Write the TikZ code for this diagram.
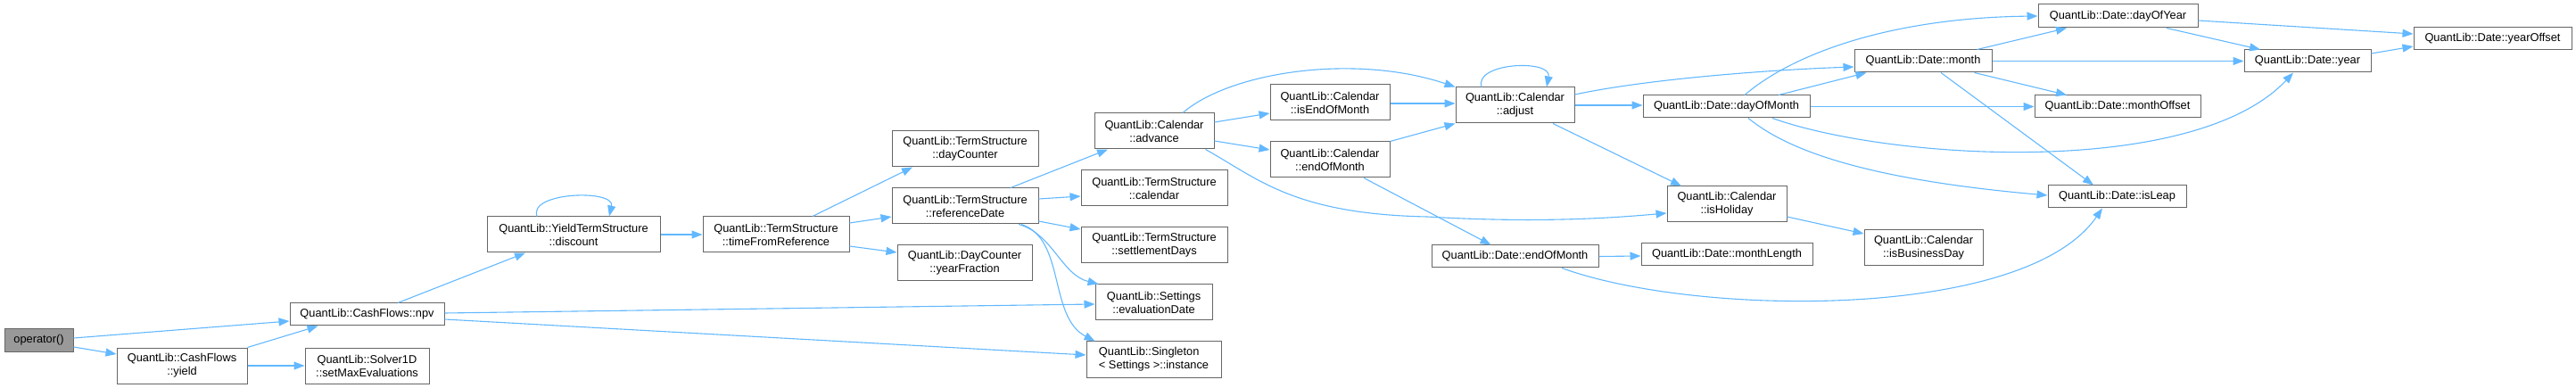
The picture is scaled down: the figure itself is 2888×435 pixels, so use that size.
\documentclass[tikz,border=0pt]{standalone}
\usepackage{fontspec}
\setmainfont{Liberation Sans}
\usetikzlibrary{arrows.meta,calc}
\definecolor{edgeblue}{HTML}{63B8FF}
\definecolor{boxgray}{HTML}{666666}
\definecolor{rootgray}{HTML}{999999}
\begin{document}
\begin{tikzpicture}[x=1pt,y=-1pt,
  nodebox/.style={draw=boxgray, line width=1pt, fill=white, inner sep=0pt, align=center, font=\fontsize{12.8}{15}\selectfont},
  twoline/.style={minimum height=40pt},
  oneline/.style={minimum height=25pt},
  rootbox/.style={nodebox, fill=rootgray},
  call/.style={draw=edgeblue, line width=1.1pt, -{Triangle[length=12pt,width=9pt]}}]
\useasboundingbox (0,0) rectangle (2888,435);

% nodes
\node[rootbox,oneline,minimum width=77pt] (op) at (43.5,381.5) {operator()};
\node[nodebox,oneline,minimum width=173pt] (npv) at (411.5,352.5) {QuantLib::CashFlows::npv};
\node[nodebox,twoline,minimum width=146pt] (yield) at (204,410) {QuantLib::CashFlows\\::yield};
\node[nodebox,twoline,minimum width=139pt] (setmax) at (411.5,410) {QuantLib::Solver1D\\::setMaxEvaluations};
\node[nodebox,twoline,minimum width=194pt] (discount) at (643,263) {QuantLib::YieldTermStructure\\::discount};
\node[nodebox,twoline,minimum width=164pt] (tfr) at (870,263) {QuantLib::TermStructure\\::timeFromReference};
\node[nodebox,twoline,minimum width=164pt] (daycounter) at (1082,167) {QuantLib::TermStructure\\::dayCounter};
\node[nodebox,twoline,minimum width=164pt] (refdate) at (1082,231) {QuantLib::TermStructure\\::referenceDate};
\node[nodebox,twoline,minimum width=151pt] (yearfrac) at (1081.5,295) {QuantLib::DayCounter\\::yearFraction};
\node[nodebox,twoline,minimum width=134pt] (advance) at (1294,147) {QuantLib::Calendar\\::advance};
\node[nodebox,twoline,minimum width=164pt] (calendar) at (1294,211) {QuantLib::TermStructure\\::calendar};
\node[nodebox,twoline,minimum width=164pt] (settle) at (1294,275) {QuantLib::TermStructure\\::settlementDays};
\node[nodebox,twoline,minimum width=131pt] (evaldate) at (1293.5,339) {QuantLib::Settings\\::evaluationDate};
\node[nodebox,twoline,minimum width=151pt,align=left] (instance) at (1293.5,403) {QuantLib::Singleton\\< Settings >::instance};
\node[nodebox,twoline,minimum width=134pt] (iseom) at (1491,115) {QuantLib::Calendar\\::isEndOfMonth};
\node[nodebox,twoline,minimum width=134pt] (caleom) at (1491,179) {QuantLib::Calendar\\::endOfMonth};
\node[nodebox,twoline,minimum width=133pt] (adjust) at (1698.5,118) {QuantLib::Calendar\\::adjust};
\node[nodebox,oneline,minimum width=187pt] (dom) at (1935.5,119.5) {QuantLib::Date::dayOfMonth};
\node[nodebox,twoline,minimum width=134pt] (isholiday) at (1936,229) {QuantLib::Calendar\\::isHoliday};
\node[nodebox,oneline,minimum width=187pt] (dateeom) at (1698.5,287.5) {QuantLib::Date::endOfMonth};
\node[nodebox,oneline,minimum width=192pt] (monthlength) at (1936,285.5) {QuantLib::Date::monthLength};
\node[nodebox,twoline,minimum width=133pt] (isbusday) at (2156.5,278) {QuantLib::Calendar\\::isBusinessDay};
\node[nodebox,oneline,minimum width=179pt,minimum height=26pt] (doy) at (2374.5,18) {QuantLib::Date::dayOfYear};
\node[nodebox,oneline,minimum width=154pt] (month) at (2156,68.5) {QuantLib::Date::month};
\node[nodebox,oneline,minimum width=142pt] (year) at (2587,68.5) {QuantLib::Date::year};
\node[nodebox,oneline,minimum width=177pt] (yearoffset) at (2794.5,43.5) {QuantLib::Date::yearOffset};
\node[nodebox,oneline,minimum width=186pt] (monthoffset) at (2374,119.5) {QuantLib::Date::monthOffset};
\node[nodebox,oneline,minimum width=155pt] (isleap) at (2373.5,220.5) {QuantLib::Date::isLeap};

% edges
\draw[call] ($(op.east)+(0,-2.5)$) -- ($(npv.west)+(0,7.5)$);
\draw[call] ($(op.east)+(0,7.5)$) -- ($(yield.west)+(0,-13)$);
\draw[call] (yield.north east) -- ($(npv.south west)+(32,0)$);
\draw[call] (yield.east) -- (setmax.west);
\draw[call] ($(npv.north)+(34.5,0)$) -- ($(discount.south)+(-54,0)$);
\draw[call] ($(npv.east)+(0,-1.5)$) -- ($(evaldate.west)+(0,2)$);
\draw[call] ($(npv.east)+(0,5.5)$) -- ($(instance.west)+(0,-5)$);
\draw[call] ($(discount.north)+(-41,0)$) .. controls (592,215) and (690,212) .. ($(discount.north)+(40,0)$);
\draw[call] (discount.east) -- (tfr.west);
\draw[call] ($(tfr.north)+(41,0)$) -- ($(daycounter.south)+(-59,0)$);
\draw[call] ($(tfr.east)+(0,-13)$) -- ($(refdate.west)+(0,12)$);
\draw[call] ($(tfr.east)+(0,13)$) -- ($(yearfrac.west)+(0,-12)$);
\draw[call] ($(refdate.north)+(51,0)$) -- ($(advance.south)+(-52,0)$);
\draw[call] ($(refdate.east)+(0,-8)$) -- ($(calendar.west)+(0,9)$);
\draw[call] ($(refdate.east)+(0,17)$) -- ($(settle.west)+(0,-18)$);
\draw[call] ($(refdate.south)+(60,0)$) .. controls (1180,262) and (1190,308) .. ($(evaldate.north west)+(4,0)$);
\draw[call] ($(refdate.south)+(63,0)$) .. controls (1195,268) and (1175,355) .. ($(instance.north west)+(10,0)$);
\draw[call] ($(advance.north)+(32,0)$) .. controls (1380,80) and (1520,60) .. (adjust.north west);
\draw[call] ($(advance.east)+(0,-10)$) -- ($(iseom.west)+(0,12)$);
\draw[call] ($(advance.east)+(0,11)$) -- ($(caleom.west)+(0,-11)$);
\draw[call] ($(advance.south east)+(-10,0)$) .. controls (1410,200) and (1450,240) .. (1600,243) .. controls (1720,250) and (1800,245) .. ($(isholiday.west)+(0,10)$);
\draw[call] ($(iseom.east)+(0,1)$) -- ($(adjust.west)+(0,-2)$);
\draw[call] (caleom.north east) -- (adjust.south west);
\draw[call] ($(caleom.south)+(38,0)$) -- ($(dateeom.north)+(-27,0)$);
\draw[call] ($(adjust.north)+(-37.5,0)$) .. controls (1652,70) and (1740,66) .. ($(adjust.north)+(35.5,0)$);
\draw[call] ($(adjust.east)+(0,-12)$) .. controls (1850,88) and (1990,78) .. ($(month.west)+(0,6.5)$);
\draw[call] (adjust.east) -- ($(dom.west)+(0,-1.5)$);
\draw[call] ($(adjust.south)+(42.5,0)$) -- ($(isholiday.north)+(-51,0)$);
\draw[call] ($(dom.north)+(20.5,0)$) .. controls (2010,60) and (2120,20) .. (doy.west);
\draw[call] ($(dom.north)+(58.5,0)$) -- ($(month.south west)+(14,0)$);
\draw[call] (dom.east) -- (monthoffset.west);
\draw[call] ($(dom.south)+(51.5,0)$) .. controls (2120,180) and (2460,200) .. ($(year.south)+(-16,0)$);
\draw[call] ($(dom.south)+(24.5,0)$) .. controls (2000,165) and (2080,200) .. ($(isleap.west)+(0,-1.5)$);
\draw[call] ($(month.north east)+(-17,0)$) -- ($(doy.south)+(-57.5,0)$);
\draw[call] (month.east) -- (year.west);
\draw[call] ($(month.south east)+(-20,0)$) -- ($(monthoffset.north)+(-57,0)$);
\draw[call] ($(month.south)+(20,0)$) -- ($(isleap.north)+(-26.5,0)$);
\draw[call] ($(doy.south)+(54.5,0)$) -- ($(year.north)+(-53,0)$);
\draw[call] ($(doy.east)+(0,5)$) -- ($(yearoffset.west)+(0,-5.5)$);
\draw[call] ($(year.east)+(0,-8.5)$) -- ($(yearoffset.west)+(0,8.5)$);
\draw[call] ($(isholiday.east)+(0,14)$) -- ($(isbusday.west)+(0,-16)$);
\draw[call] (dateeom.east) -- ($(monthlength.west)+(0,1.5)$);
\draw[call] ($(dateeom.south)+(52.5,0)$) .. controls (1900,355) and (2270,360) .. ($(isleap.south)+(-16.5,0)$);
\end{tikzpicture}
\end{document}
